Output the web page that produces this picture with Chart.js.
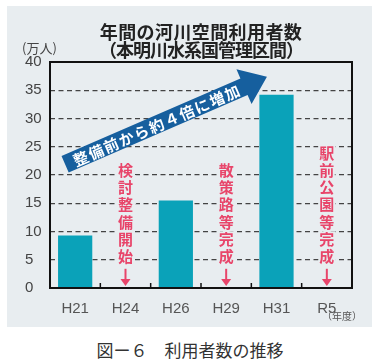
<!DOCTYPE html>
<html>
<head>
<meta charset="utf-8">
<script src="https://cdn.jsdelivr.net/npm/chart.js@4"></script>
<style>
  body { margin: 0; background: #fff; font-family: "Noto Sans CJK JP", sans-serif; }
  #panel { position: absolute; left: 7px; top: 6px; width: 365px; height: 321px; background: #e8edf0; }
  #chart { position: absolute; left: 0; top: 0; }
  .t { position: absolute; left: -7px; width: 402px; text-align: center; font-weight: bold; color: #222; font-size: 18px; line-height: 20px; }
  #unit { position: absolute; left: 15px; top: 34px; font-size: 13px; color: #444; line-height: 16px; }
  #caption { position: absolute; left: 0; top: 339px; width: 380px; text-align: center; font-size: 17px; color: #333; line-height: 22px; }
</style>
</head>
<body>
<div id="panel">
  <canvas id="chart" width="365" height="321"></canvas>
  <div class="t" style="top: 15px; letter-spacing: 0.4px;">年間の河川空間利用者数</div>
  <div class="t" style="top: 33px; letter-spacing: -1px;">（本明川水系国管理区間）</div>
  <div id="unit">(万人)</div>
</div>
<div id="caption">図ー６　利用者数の推移</div>
<script>
const categories = ['H21', 'H24', 'H26', 'H29', 'H31', 'R5'];
const users = [9.3, null, 15.5, null, 34.2, null];
const yTicks = [0, 5, 10, 15, 20, 25, 30, 35, 40];

// 赤い縦書きの注記
const noteCats = ['H24', 'H29', 'R5'];
const noteTexts = ['検討整備開始', '散策路等完成', '駅前公園等完成'];

// 大きな矢印（カテゴリ位置, 値）
const arrowFrom = [-0.2, 21.9];
const arrowTo = [3.81, 37.4];
const arrowText = '整備前から約４倍に増加';

const panelBg = '#e8edf0';
const red = '#e8456a';

const annot = {
  id: 'annot',
  afterDraw(chart) {
    const ctx = chart.ctx;
    const a = chart.chartArea;
    const xs = chart.scales.x;
    const ys = chart.scales.y;
    ctx.save();

    // 枠
    ctx.strokeStyle = '#111';
    ctx.lineWidth = 2;
    ctx.strokeRect(a.left, a.top, a.right - a.left, a.bottom - a.top);

    // 内向きの目盛り
    ctx.lineWidth = 1.5;
    for (let i = 0; i < categories.length - 1; i++) {
      const x = xs.getPixelForValue(i + 0.5);
      ctx.beginPath();
      ctx.moveTo(x, a.bottom);
      ctx.lineTo(x, a.bottom - 5);
      ctx.stroke();
    }

    // 赤い注記
    ctx.font = 'bold 15px "Noto Sans CJK JP"';
    ctx.textAlign = 'center';
    ctx.textBaseline = 'middle';
    noteCats.forEach((c, k) => {
      const x = xs.getPixelForValue(categories.indexOf(c));
      const chars = [...noteTexts[k]];
      const yLast = ys.getPixelForValue(5.6);
      chars.forEach((ch, j) => {
        const y = yLast - (chars.length - 1 - j) * 17.2;
        ctx.lineWidth = 4;
        ctx.strokeStyle = panelBg;
        ctx.strokeText(ch, x, y);
        ctx.fillStyle = red;
        ctx.fillText(ch, x, y);
      });
      const y1 = ys.getPixelForValue(3.4);
      const y2 = ys.getPixelForValue(0.35);
      ctx.strokeStyle = red;
      ctx.lineWidth = 2;
      ctx.beginPath();
      ctx.moveTo(x, y1);
      ctx.lineTo(x, y2 - 5);
      ctx.stroke();
      ctx.fillStyle = red;
      ctx.beginPath();
      ctx.moveTo(x - 5, y2 - 7);
      ctx.lineTo(x + 5, y2 - 7);
      ctx.lineTo(x, y2);
      ctx.closePath();
      ctx.fill();
    });

    // 大きな青い矢印
    const x0 = xs.getPixelForValue(arrowFrom[0]);
    const y0 = ys.getPixelForValue(arrowFrom[1]);
    const x1 = xs.getPixelForValue(arrowTo[0]);
    const y1 = ys.getPixelForValue(arrowTo[1]);
    const len = Math.hypot(x1 - x0, y1 - y0);
    const ang = Math.atan2(y1 - y0, x1 - x0);
    const body = 18, head = 38, headLen = 25;
    ctx.translate(x0, y0);
    ctx.rotate(ang);
    ctx.fillStyle = '#165f9e';
    ctx.beginPath();
    ctx.moveTo(0, -body / 2);
    ctx.lineTo(len - headLen, -body / 2);
    ctx.lineTo(len - headLen, -head / 2);
    ctx.lineTo(len, 0);
    ctx.lineTo(len - headLen, head / 2);
    ctx.lineTo(len - headLen, body / 2);
    ctx.lineTo(0, body / 2);
    ctx.closePath();
    ctx.fill();
    ctx.fillStyle = '#fff';
    ctx.font = 'bold 15px "Noto Sans CJK JP"';
    ctx.letterSpacing = '1.5px';
    ctx.fillText(arrowText, 100, 1);
    ctx.restore();

    // 年度
    ctx.save();
    ctx.font = '10px "Noto Sans CJK JP"';
    ctx.fillStyle = '#555';
    ctx.textAlign = 'right';
    ctx.textBaseline = 'middle';
    ctx.fillText('（年度）', a.right + 10, a.bottom + 28);
    ctx.restore();
  }
};

new Chart(document.getElementById('chart'), {
  type: 'bar',
  data: {
    labels: categories,
    datasets: [{
      data: users,
      backgroundColor: '#0aa2b9',
      barPercentage: 0.68,
      categoryPercentage: 1
    }]
  },
  options: {
    responsive: false,
    animation: false,
    layout: { padding: { left: 18, right: 20, top: 56, bottom: 13 } },
    plugins: { legend: { display: false }, tooltip: { enabled: false } },
    scales: {
      x: {
        grid: { display: false },
        border: { display: false },
        ticks: { color: '#555', font: { size: 15, family: 'Liberation Sans' }, padding: 4 },
        afterFit(s) { s.height = 26; }
      },
      y: {
        min: 0,
        max: 40,
        afterBuildTicks(s) { s.ticks = yTicks.map(v => ({ value: v })); },
        grid: {
          drawTicks: false,
          color: c => (c.tick.value === 0 || c.tick.value === 40) ? 'rgba(0,0,0,0)' : '#444',
          lineWidth: 1.2
        },
        border: { display: false, dash: [5, 3.5] },
        ticks: { color: '#444', font: { size: 15, family: 'Liberation Sans' }, crossAlign: 'far', padding: 0 },
        afterFit(s) { s.width = 25; }
      }
    }
  },
  plugins: [annot]
});
</script>
</body>
</html>
